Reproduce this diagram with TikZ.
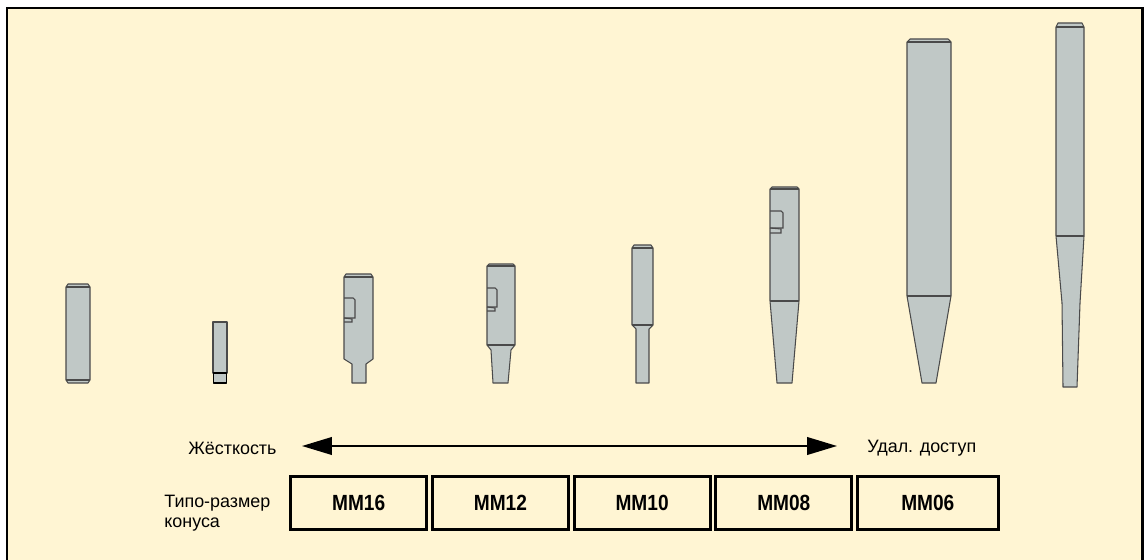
\documentclass[tikz,border=0pt]{standalone}
\usepackage{fontspec}
\setmainfont{Liberation Sans}
\usetikzlibrary{arrows.meta}

\definecolor{panel}{HTML}{FFF5D3}
\definecolor{steel}{HTML}{C0C8C6}
\definecolor{edge}{HTML}{4A4A4A}

\tikzset{
  shank/.style={draw=edge, fill=steel, line width=0.6pt, line join=round},
  seam/.style={draw=edge, line width=0.6pt},
  sizebox/.style={draw, line width=1.6pt, minimum width=2.72cm, minimum height=1.06cm,
    inner sep=0pt, font=\fontsize{12.5}{14}\selectfont\bfseries},
  lbl/.style={inner sep=0pt, anchor=west, font=\fontsize{10.2}{11.4}\selectfont},
}
\newcommand{\narrow}[1]{\scalebox{0.87}[1]{#1}}

\begin{document}
\begin{tikzpicture}[x=0.02cm, y=-0.02cm]
  \useasboundingbox (0,0) rectangle (1145,560);
  \clip (0,0) rectangle (1145,560);
  % Draw panel
  \draw[line width=1.7pt, fill=panel] (7,8) rectangle (1142,580);

  % Draw plain pin
  \draw[shank] (66,287) -- (68,284) -- (88,284) -- (90,287) -- (90,380) -- (88,383) -- (68,383) -- (66,380) -- cycle;
  \draw[seam] (66,287) -- (90,287) (66,380) -- (90,380);

  % Draw short pin with collar
  \draw[shank] (213,322) rectangle (227,373);
  \draw[shank, draw=black, line width=0.9pt] (213.5,373) rectangle (226.5,383);

  % Draw MM16 tool
  \draw[shank] (344,277) -- (346,274) -- (371,274) -- (373,277) -- (373,359) -- (366,364) -- (366,383)
    -- (352,383) -- (352,364) -- (344,359) -- cycle;
  \draw[seam] (344,277) -- (373,277);
  \draw[seam] (344,298) -- (353,298) -- (355,300) -- (355,318) -- (344,318);
  \draw[seam] (344,318) -- (352,319) -- (352,322) -- (344,322);

  % Draw MM12 tool
  \draw[shank] (487,266) -- (489,264) -- (513,264) -- (515,266) -- (515,345) -- (511,350) -- (508,383)
    -- (493,383) -- (491,350) -- (487,345) -- cycle;
  \draw[seam] (487,266) -- (515,266) (487,345) -- (515,345);
  \draw[seam] (487,288) -- (495,288) -- (497,290) -- (497,307) -- (487,307);
  \draw[seam] (487,307) -- (495,308) -- (495,311) -- (487,311);

  % Draw MM10 tool
  \draw[shank] (632,248) -- (634,245) -- (651,245) -- (653,248) -- (653,325) -- (649,329) -- (649,383)
    -- (636,383) -- (636,329) -- (632,325) -- cycle;
  \draw[seam] (632,248) -- (653,248) (632,325) -- (653,325);

  % Draw MM08 tool
  \draw[shank] (770,189) -- (772,187) -- (797,187) -- (799,189) -- (799,301) -- (792,383)
    -- (777,383) -- (770,301) -- cycle;
  \draw[seam] (770,189) -- (799,189) (770,301) -- (799,301);
  \draw[seam] (770,211) -- (781,211) -- (783,213) -- (783,228) -- (770,228);
  \draw[seam] (770,228) -- (781,229) -- (781,233) -- (770,233);

  % Draw MM06 tools
  \draw[shank] (907,42) -- (910,39) -- (948,39) -- (951,42) -- (951,296) -- (936,383)
    -- (922,383) -- (907,296) -- cycle;
  \draw[seam] (907,42) -- (951,42) (907,296) -- (951,296);
  \draw[shank] (1056,27) -- (1058,23) -- (1082,23) -- (1084,27) -- (1084,236) -- (1080,303) -- (1077,387)
    -- (1063,387) -- (1062,303) -- (1056,236) -- cycle;
  \draw[seam] (1056,27) -- (1084,27) (1056,236) -- (1084,236);

  % Draw stiffness / reach arrow
  \node[lbl] (stiffness) at (188,448) {Жёсткость};
  \node[lbl] (access) at (867,448) {Удал. доступ};
  \coordinate (stiffend) at (302,446);
  \coordinate (reachend) at (837,446);
  \draw[line width=1.1pt, {Triangle[length=17pt,width=10pt]}-{Triangle[length=17pt,width=10pt]}]
    (stiffend) -- (reachend);

  % Draw cone size boxes
  \node[lbl, align=left] (conesize) at (164,513) {Типо-размер\\конуса};
  \foreach \name [count=\i from 0] in {MM16,MM12,MM10,MM08} {
    \node[sizebox] (box\i) at (358.7+141.7*\i,503.3) {\narrow{\name}};
  }
  \node[sizebox, minimum width=2.82cm] (box4) at (927.8,503.3) {\narrow{MM06}};
\end{tikzpicture}
\end{document}
